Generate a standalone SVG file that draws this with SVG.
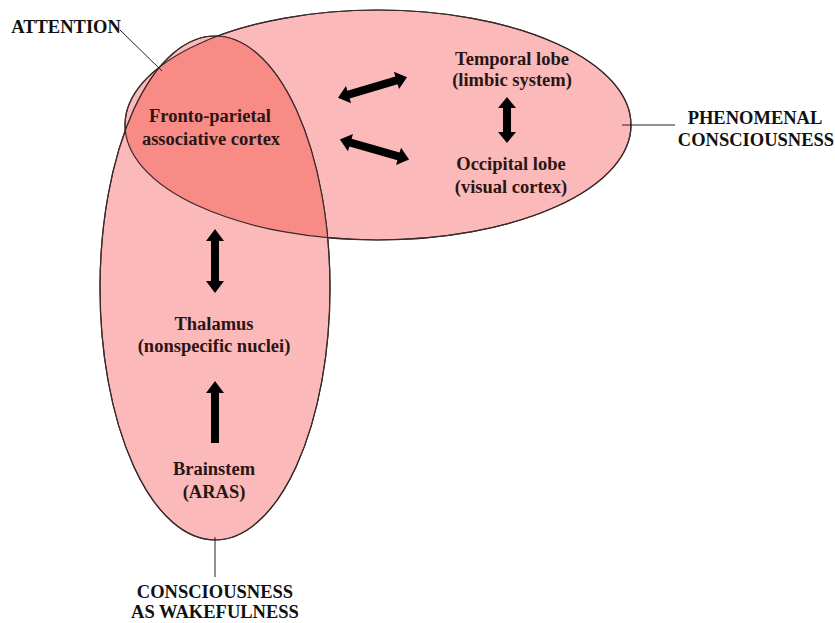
<svg xmlns="http://www.w3.org/2000/svg" width="835" height="623" viewBox="0 0 835 623">
<style>
.reg{fill:#fbb9b9;stroke:#3a2a2a;stroke-width:1.2}
.ov{fill:#f98b87;stroke:none}
.edge{fill:none;stroke:#3a2a2a;stroke-width:1.2}
.t{font-family:"Liberation Serif","Times New Roman",serif;font-weight:bold;font-size:18.5px;fill:#2a1515;text-anchor:middle}
.lab{font-family:"Liberation Serif","Times New Roman",serif;font-weight:bold;font-size:18.5px;fill:#111;text-anchor:middle}
.lead{stroke:#222;stroke-width:1;fill:none}
.arr{fill:#000}
</style>
<defs>
<clipPath id="hclip"><ellipse cx="378" cy="125" rx="253" ry="115"/></clipPath>
<path id="dbl" d="M-36,0 L-25,-9 L-25,-4 L25,-4 L25,-9 L36,0 L25,9 L25,4 L-25,4 L-25,9 Z"/>
</defs>
<g id="regions">
<ellipse class="reg" cx="378" cy="125" rx="253" ry="115"/>
<ellipse class="reg" cx="215" cy="288" rx="115" ry="252"/>
<ellipse class="ov" cx="215" cy="288" rx="115" ry="252" clip-path="url(#hclip)"/>
<ellipse class="edge" cx="378" cy="125" rx="253" ry="115"/>
<ellipse class="edge" cx="215" cy="288" rx="115" ry="252"/>
</g>
<g id="connectors">
<path class="arr" d="M215,229 L224,241 L219,241 L219,281 L224,281 L215,293 L206,281 L211,281 L211,241 L206,241 Z"/>
<path class="arr" d="M215,381 L224,393 L219,393 L219,443 L211,443 L211,393 L206,393 Z"/>
<path class="arr" d="M507,97 L516,108 L511,108 L511,132 L516,132 L507,143 L498,132 L503,132 L503,108 L498,108 Z"/>
<use href="#dbl" class="arr" transform="translate(372.5,87.5) rotate(-16.5)"/>
<use href="#dbl" class="arr" transform="translate(374.5,149.5) rotate(16)"/>
<line class="lead" x1="120" y1="30" x2="162" y2="71"/>
<line class="lead" x1="622" y1="125" x2="675" y2="125"/>
<line class="lead" x1="215" y1="537" x2="215" y2="577"/>
</g>
<g id="frontoparietal"><text class="t" x="210" y="122">Fronto-parietal</text><text class="t" x="211" y="145">associative cortex</text></g>
<g id="temporal"><text class="t" x="512" y="65">Temporal lobe</text><text class="t" x="512" y="86">(limbic system)</text></g>
<g id="occipital"><text class="t" x="511" y="170">Occipital lobe</text><text class="t" x="511" y="193">(visual cortex)</text></g>
<g id="thalamus"><text class="t" x="214" y="330">Thalamus</text><text class="t" x="214" y="352">(nonspecific nuclei)</text></g>
<g id="brainstem"><text class="t" x="214" y="475">Brainstem</text><text class="t" x="214" y="498">(ARAS)</text></g>
<g id="attention"><text class="lab" x="66" y="33">ATTENTION</text></g>
<g id="phenomenal"><text class="lab" x="755" y="124">PHENOMENAL</text><text class="lab" x="756" y="146">CONSCIOUSNESS</text></g>
<g id="wakefulness"><text class="lab" x="215" y="598">CONSCIOUSNESS</text><text class="lab" x="215" y="618">AS WAKEFULNESS</text></g>
</svg>
